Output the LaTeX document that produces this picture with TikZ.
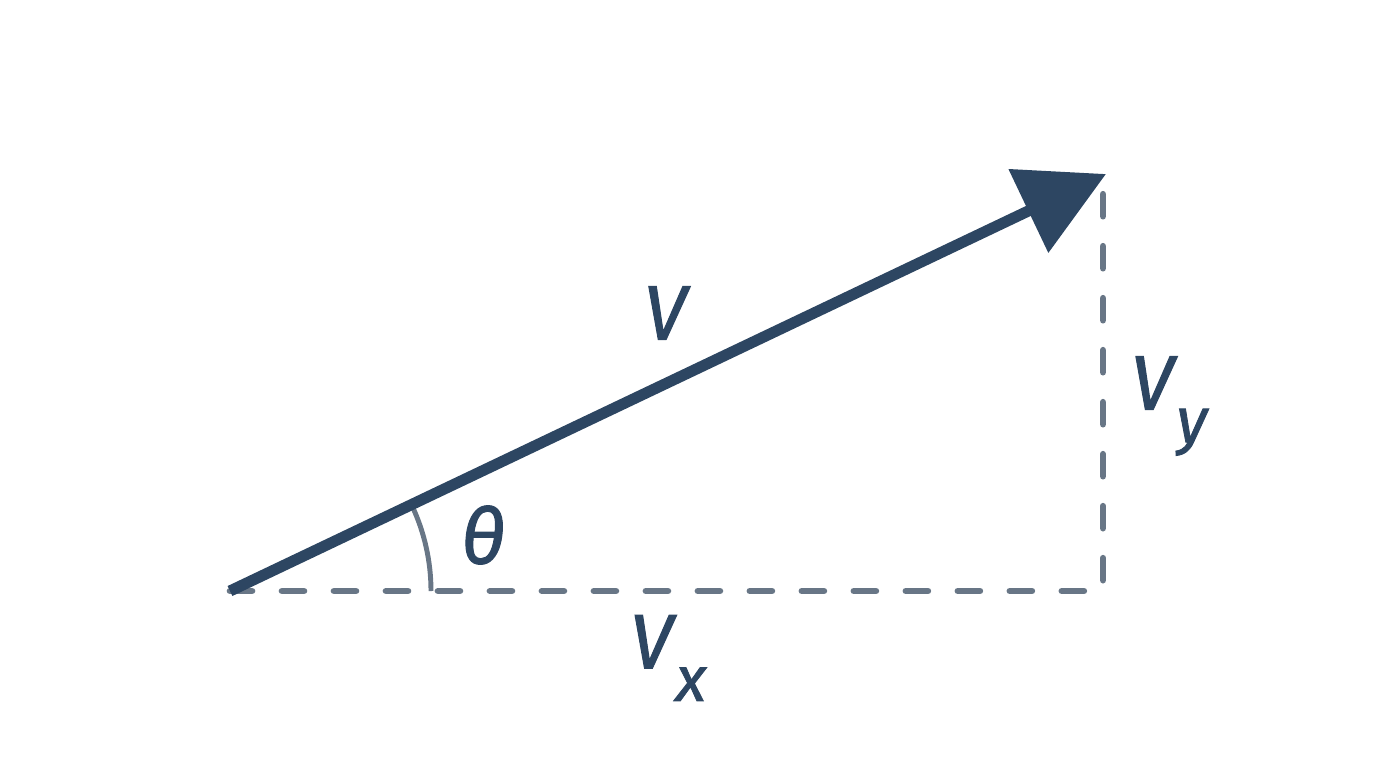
\documentclass[tikz,border=0pt]{standalone}
\usepackage{fontspec}
\setmainfont{Fira Sans}
\usetikzlibrary{arrows.meta}
\definecolor{vecnavy}{RGB}{45,70,98}
\definecolor{compgrey}{RGB}{104,118,134}
\tikzset{
  vecline/.style={line width=6.3pt, vecnavy, -{Triangle[length=1.72cm, width=1.8cm]}},
  compline/.style={line width=3.8pt, compgrey, line cap=round, dash pattern=on 0.44cm off 0.6cm},
  anglearc/.style={line width=2.8pt, compgrey},
  lbl/.style={text=vecnavy, font=\fontsize{44}{46}\selectfont\itshape\addfontfeatures{FakeBold=1.3}, inner sep=0pt}
}
\def\sublbl#1#2{#1\kern0.04em\raisebox{-0.42em}{\fontsize{36}{38}\selectfont #2}}
\begin{document}
\begin{tikzpicture}[x=0.02cm, y=-0.02cm]
\useasboundingbox (0,0) rectangle (1376,768);
% corners of the triangle
\coordinate (orig) at (230,591);
\coordinate (corner) at (1103,591);
\coordinate (top) at (1103,184);
\coordinate (tip) at (1106,174);
% components
\draw[compline] (orig) -- (corner) -- (top);
% angle
\draw[anglearc] (orig) ++(-25.3:201) arc[start angle=-25.3, end angle=0, radius=201];
% the vector
\draw[vecline] (orig) -- (tip);
% labels
\node[lbl] (vlbl) at (665,313) {V};
\node[lbl] (vxlbl) at (668,658) {\sublbl{V}{x}};
\node[lbl] (vylbl) at (1169,406) {\sublbl{V}{y}};
\node[lbl] (thlbl) at (483,535) {θ};
\end{tikzpicture}
\end{document}
